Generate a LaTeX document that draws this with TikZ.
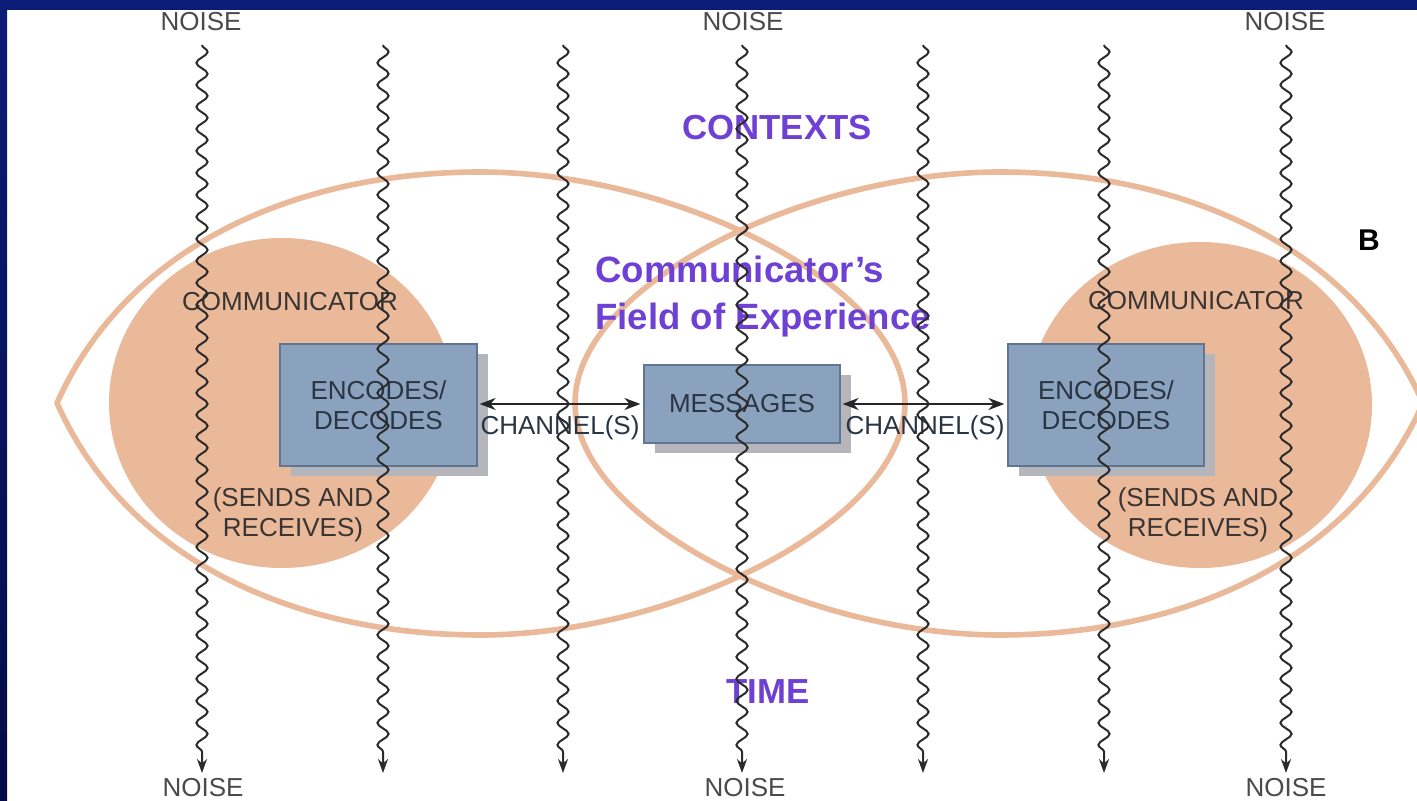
\documentclass[tikz,border=0pt]{standalone}
\usepackage{fontspec}
\setmainfont{Liberation Sans}
\usetikzlibrary{decorations.pathmorphing,arrows.meta,shadows}

\definecolor{framenavy}{HTML}{0B1C78}
\definecolor{framedeep}{HTML}{040B45}
\definecolor{peach}{HTML}{EAB99A}
\definecolor{boxfill}{HTML}{8BA2BF}
\definecolor{boxedge}{HTML}{5F7591}
\definecolor{shadowgray}{HTML}{B4B6BC}
\definecolor{violet}{HTML}{6E40D4}
\definecolor{boxink}{HTML}{2A3544}
\definecolor{commink}{HTML}{3A3532}
\definecolor{noiseink}{HTML}{4A4A4A}
\definecolor{waveink}{HTML}{2B2B2B}

\begin{document}
\begin{tikzpicture}[x=0.5pt,y=-0.5pt,
  small/.style={font=\fontsize{13pt}{15pt}\selectfont, inner sep=0pt},
  big/.style={font=\bfseries\fontsize{17.4pt}{23.5pt}\selectfont, text=violet, inner sep=0pt},
  stepbox/.style={draw=boxedge, line width=0.6pt, fill=boxfill, inner sep=0pt,
    text=boxink, align=center, small,
    general shadow={fill=shadowgray, shadow xshift=5.5pt, shadow yshift=-5pt}},
  eyeline/.style={draw=peach, line width=2.8pt, line join=round},
  eyecase/.style={draw=white, line width=3.9pt, line join=round},
  noise/.style={draw=waveink, line width=1pt, decorate,
    decoration={snake, amplitude=2.8pt, segment length=11pt, pre length=0pt, post length=8pt},
    -{Stealth[length=7pt,width=5pt]}},
  chan/.style={draw=black!85, line width=1.2pt,
    {Stealth[length=8pt,width=6pt]}-{Stealth[length=8pt,width=6pt]},
    shorten <=1pt, shorten >=1.5pt},
]
\useasboundingbox (0,0) rectangle (1417,801);

% page and frame
\fill[white] (0,0) rectangle (1417,801);
\fill[framenavy] (0,0) rectangle (1417,10);
\shade[top color=framenavy, bottom color=framedeep] (0,0) rectangle (7,801);

% the two communicators
\fill[peach] (282,403) ellipse [x radius=86.5pt, y radius=82.5pt];
\fill[peach] (1200,405) ellipse [x radius=86pt, y radius=81.5pt];

% fields of experience
\def\lefteye{(57,403) .. controls (130,240) and (305,172) .. (480,172)
  .. controls (675,172) and (905,285) .. (905,403)
  .. controls (905,521) and (675,635) .. (480,635)
  .. controls (305,635) and (130,567) .. (57,403) -- cycle}
\def\righteye{(1423,403) .. controls (1350,240) and (1175,172) .. (1000,172)
  .. controls (805,172) and (575,285) .. (575,403)
  .. controls (575,521) and (805,635) .. (1000,635)
  .. controls (1175,635) and (1350,567) .. (1423,403) -- cycle}
\path[eyecase] \lefteye;
\path[eyecase] \righteye;
\path[eyeline] \lefteye;
\path[eyeline] \righteye;

% boxes
\node[stepbox, minimum width=98.5pt, minimum height=61pt] (lbox) at (378.5,405) {ENCODES/\\DECODES};
\node[stepbox, minimum width=98pt, minimum height=39pt] (msg) at (742,404) {MESSAGES};
\node[stepbox, minimum width=98pt, minimum height=61pt] (rbox) at (1106,405) {ENCODES/\\DECODES};

% channels
\draw[chan] (lbox.east |- msg.west) -- (msg.west);
\draw[chan] (msg.east) -- (rbox.west |- msg.east);
\node[small, text=boxink] (ch1) at (560,428) {CHANNEL(S)};
\node[small, text=boxink] (ch2) at (925,428) {CHANNEL(S)};

% communicator labels
\node[small, text=commink] (lcomm) at (290,302) {COMMUNICATOR};
\node[small, text=commink, align=center] (lsend) at (293,515) {(SENDS AND\\RECEIVES)};
\node[small, text=commink] (rcomm) at (1196,301) {COMMUNICATOR};
\node[small, text=commink, align=center] (rsend) at (1198,515) {(SENDS AND\\RECEIVES)};

% headings
\node[big] (ctx) at (777,128) {CONTEXTS};
\node[big, anchor=west, align=left, font=\bfseries\fontsize{18.3pt}{23.5pt}\selectfont] (foe) at (595,297) {Communicator’s\\Field of Experience};
\node[big] (time) at (768,692) {TIME};
\node[font=\bfseries\fontsize{15pt}{17pt}\selectfont, inner sep=0pt] (bmark) at (1369,240) {B};

% noise
\foreach \i/\x in {1/202, 2/383, 3/563, 4/742, 5/923, 6/1104, 7/1286} {
  \coordinate (wt\i) at (\x,45);
  \coordinate (wb\i) at (\x,773);
  \draw[noise] (wt\i) -- (wb\i);
}
\node[small, text=noiseink] (nt1) at (201,22) {NOISE};
\node[small, text=noiseink] (nt2) at (743,22) {NOISE};
\node[small, text=noiseink] (nt3) at (1285,22) {NOISE};
\node[small, text=noiseink] (nb1) at (203,788) {NOISE};
\node[small, text=noiseink] (nb2) at (745,788) {NOISE};
\node[small, text=noiseink] (nb3) at (1286,788) {NOISE};
\end{tikzpicture}
\end{document}
